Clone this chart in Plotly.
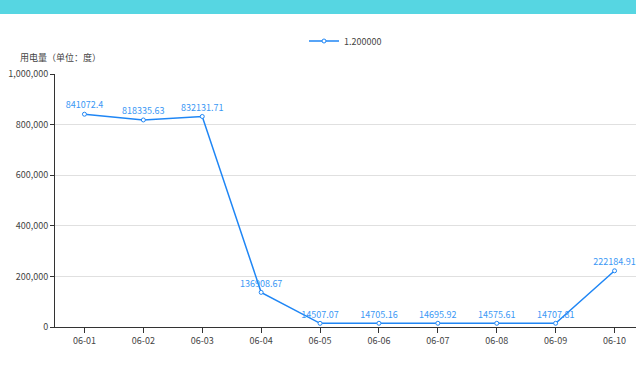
import plotly.graph_objects as go

categories = ["06-01", "06-02", "06-03", "06-04", "06-05", "06-06", "06-07", "06-08", "06-09", "06-10"]
values = [841072.4, 818335.63, 832131.71, 136908.67, 14507.07, 14705.16, 14695.92, 14575.61, 14707.81, 222184.91]
value_labels = ["841072.4", "818335.63", "832131.71", "136908.67", "14507.07", "14705.16", "14695.92", "14575.61", "14707.81", "222184.91"]
series_name = "1.200000"
y_title = "用电量（单位：度）"

FONT = "Microsoft YaHei, Noto Sans CJK SC, sans-serif"
BLUE = "#1f86f5"
TXT = "#444"

W, H = 636, 374
L, R, T, B = 55, 0, 74, 47
pw = W - L - R
ph = H - T - B

fig = go.Figure()
fig.add_trace(go.Scatter(
    x=list(range(len(categories))), y=values, name=series_name,
    mode="lines+markers+text",
    text=value_labels, textposition="top center",
    textfont=dict(family=FONT, size=9, color="#3a98f5"),
    line=dict(color=BLUE, width=1.5),
    marker=dict(symbol="circle", size=4, color="white", line=dict(color=BLUE, width=1)),
    cliponaxis=False,
))

band = 58.9
right_val = -0.5 + pw / band

fig.update_layout(
    width=W, height=H,
    margin=dict(l=L, r=R, t=T, b=B),
    paper_bgcolor="white", plot_bgcolor="white",
    font=dict(family=FONT, size=9, color=TXT),
    showlegend=True,
    legend=dict(orientation="h", x=(304 - L) / pw, xanchor="left",
                y=(H - B - 41) / ph, yanchor="middle",
                font=dict(family=FONT, size=9, color=TXT),
                bgcolor="rgba(0,0,0,0)"),
    xaxis=dict(
        range=[-0.5, right_val],
        tickmode="array", tickvals=list(range(len(categories))), ticktext=categories,
        tickson="boundaries", ticks="outside", ticklen=5, tickcolor="#333",
        showline=True, linecolor="#333", linewidth=1,
        showgrid=False, zeroline=False,
        tickfont=dict(family=FONT, size=9, color=TXT),
    ),
    yaxis=dict(
        range=[0, 1000000], dtick=200000, tickformat=",",
        ticks="outside", ticklen=4, tickcolor="#333",
        showline=True, linecolor="#333", linewidth=1,
        showgrid=True, gridcolor="#e0e0e0", gridwidth=1,
        zeroline=False,
        tickfont=dict(family=FONT, size=9, color=TXT),
    ),
    shapes=[dict(type="rect", xref="paper", yref="paper",
                 x0=-L / pw - 0.01, x1=1 + 0.01, y0=(H - B - 14) / ph, y1=(H - B + 2) / ph,
                 fillcolor="#56d6e2", line=dict(width=0), layer="above")],
    annotations=[dict(text=y_title, xref="paper", yref="paper",
                      x=(18 - L) / pw, y=(H - B - 58) / ph, xanchor="left", yanchor="middle",
                      showarrow=False, font=dict(family=FONT, size=9, color=TXT))],
)

fig.write_html("out.html", config={"displayModeBar": False},
               post_script="document.body.style.margin='0';document.body.style.overflow='hidden';")
